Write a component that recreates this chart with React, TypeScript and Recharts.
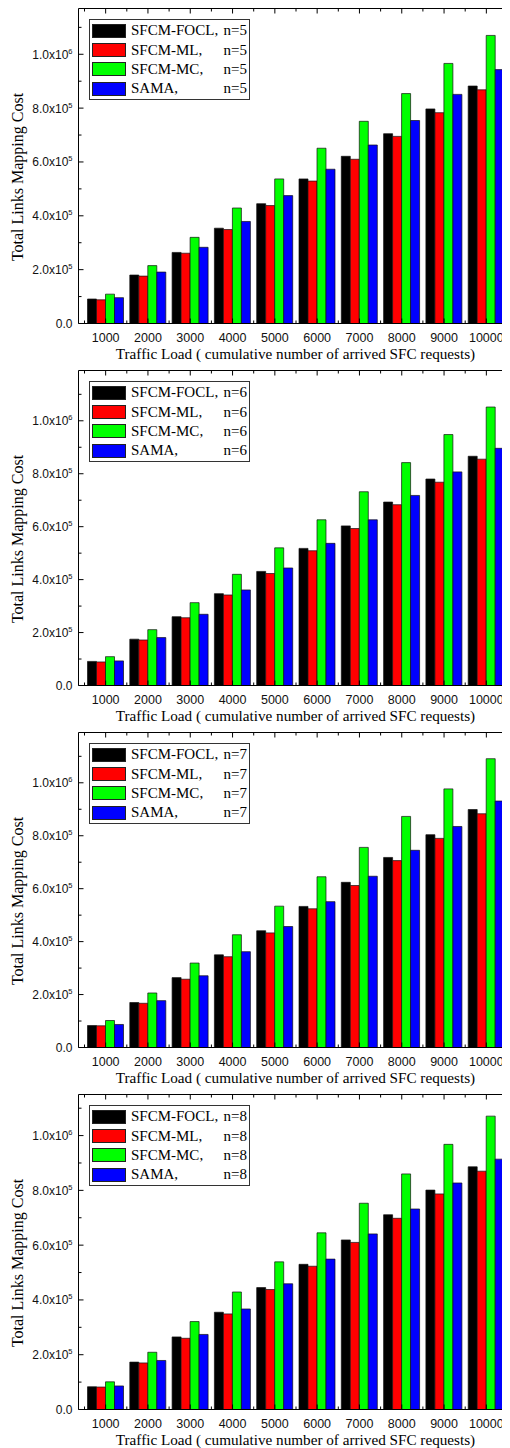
import { Bar, BarChart, Legend, XAxis, YAxis } from "recharts";

// traffic load categories
const loads = ["1000", "2000", "3000", "4000", "5000", "6000", "7000", "8000", "9000", "10000"];

// series names and colours, legend order
const seriesNames = ["SFCM-FOCL", "SFCM-ML", "SFCM-MC", "SAMA"];
const seriesKeys = ["focl", "ml", "mc", "sama"];
const seriesColors = ["#000000", "#ff0000", "#00ff00", "#0000ff"];

// n = 5
const focl5 = [91000, 180000, 264000, 354000, 445000, 537000, 621000, 705000, 797000, 882000];
const ml5 = [88000, 176000, 261000, 349000, 438000, 529000, 610000, 695000, 783000, 868000];
const mc5 = [109000, 215000, 320000, 429000, 537000, 651000, 751000, 854000, 966000, 1070000];
const sama5 = [96000, 191000, 283000, 379000, 475000, 573000, 663000, 754000, 851000, 943000];

// n = 6
const focl6 = [91000, 175000, 260000, 347000, 431000, 518000, 603000, 693000, 780000, 866000];
const ml6 = [89000, 172000, 256000, 342000, 423000, 509000, 593000, 683000, 768000, 855000];
const mc6 = [109000, 211000, 313000, 420000, 520000, 626000, 732000, 842000, 948000, 1052000];
const sama6 = [93000, 181000, 269000, 361000, 444000, 537000, 626000, 718000, 807000, 896000];

// n = 7
const focl7 = [83000, 170000, 264000, 350000, 441000, 533000, 624000, 718000, 804000, 899000];
const ml7 = [82000, 167000, 258000, 343000, 433000, 524000, 612000, 706000, 790000, 883000];
const mc7 = [102000, 206000, 319000, 426000, 534000, 645000, 756000, 873000, 977000, 1091000];
const sama7 = [87000, 177000, 271000, 362000, 457000, 551000, 647000, 745000, 835000, 931000];

// n = 8
const focl8 = [83000, 173000, 265000, 355000, 445000, 530000, 619000, 711000, 801000, 886000];
const ml8 = [82000, 170000, 260000, 349000, 438000, 523000, 610000, 698000, 787000, 870000];
const mc8 = [101000, 209000, 321000, 429000, 539000, 645000, 753000, 860000, 968000, 1071000];
const sama8 = [86000, 179000, 274000, 367000, 459000, 549000, 641000, 732000, 827000, 914000];

const yTicks = [0, 1e5, 2e5, 3e5, 4e5, 5e5, 6e5, 7e5, 8e5, 9e5, 1e6, 1.1e6];

const panels = [
  { n: 5, max: 1.17e6, focl: focl5, ml: ml5, mc: mc5, sama: sama5 },
  { n: 6, max: 1.19e6, focl: focl6, ml: ml6, mc: mc6, sama: sama6 },
  { n: 7, max: 1.19e6, focl: focl7, ml: ml7, mc: mc7, sama: sama7 },
  { n: 8, max: 1.15e6, focl: focl8, ml: ml8, mc: mc8, sama: sama8 },
];

// chart is wider than the window on purpose: the right frame sits at page x 509
const W = 510;
const H = 362;
const Y_W = 70.5;
const R_W = 8.5;
const PAD_L = 6;
const PAD_R = 2;
const BAND = (W - Y_W - R_W - PAD_L - PAD_R) / loads.length;
const SANS = "'Liberation Sans', Arial, sans-serif";
const SERIF = "'Liberation Serif', 'Times New Roman', serif";

const isMajor = (v: number) => Math.round(v / 1e5) % 2 === 0;

function yLabel(v: number) {
  if (v === 0) return <tspan>0.0</tspan>;
  const exp = Math.floor(Math.log10(v) + 1e-9);
  const mant = (v / Math.pow(10, exp)).toFixed(1);
  return (
    <>
      <tspan>{mant}x10</tspan>
      <tspan dy={-5} fontSize={7.5}>{exp}</tspan>
    </>
  );
}

function LeftTick({ x, y, payload }: any) {
  const major = isMajor(payload.value);
  return (
    <g>
      <line x1={x} x2={x + (major ? 5 : 3)} y1={y} y2={y} stroke="#000" />
      {major && (
        <text x={x - 6} y={y + 4.5} textAnchor="end" fontSize={12} style={{ fontFamily: SANS }} fill="#111">
          {yLabel(payload.value)}
        </text>
      )}
    </g>
  );
}

function RightTick({ x, y, payload }: any) {
  const major = isMajor(payload.value);
  return <line x1={x} x2={x - (major ? 5 : 3)} y1={y} y2={y} stroke="#000" />;
}

function BottomTick({ x, y, payload, index }: any) {
  return (
    <g>
      <line x1={x} x2={x} y1={y} y2={y - 5} stroke="#000" />
      <line x1={x - BAND / 2} x2={x - BAND / 2} y1={y} y2={y - 3} stroke="#000" />
      {index === loads.length - 1 && (
        <line x1={x + BAND / 2} x2={x + BAND / 2} y1={y} y2={y - 3} stroke="#000" />
      )}
      <text x={x} y={y + 18} textAnchor="middle" fontSize={12.5} style={{ fontFamily: SANS }} fill="#111">
        {payload.value}
      </text>
    </g>
  );
}

function TopTick({ x, y, index }: any) {
  return (
    <g>
      <line x1={x} x2={x} y1={y} y2={y + 5} stroke="#000" />
      <line x1={x - BAND / 2} x2={x - BAND / 2} y1={y} y2={y + 3} stroke="#000" />
      {index === loads.length - 1 && (
        <line x1={x + BAND / 2} x2={x + BAND / 2} y1={y} y2={y + 3} stroke="#000" />
      )}
    </g>
  );
}

function LegendBox({ n }: { n: number }) {
  return (
    <div
      style={{
        border: "1px solid #333",
        background: "#fff",
        padding: "1px 2px 0 2px",
        width: 161,
        boxSizing: "border-box",
        fontFamily: SERIF,
        fontSize: 15,
        color: "#000",
      }}
    >
      {seriesNames.map((name, i) => (
        <div key={name} style={{ display: "flex", alignItems: "center", height: 19.4 }}>
          <span
            style={{
              width: 34,
              height: 14,
              background: seriesColors[i],
              border: "1px solid #222",
              boxSizing: "border-box",
              flex: "none",
            }}
          />
          <span style={{ marginLeft: 5, flex: 1, display: "flex", justifyContent: "space-between", lineHeight: 1 }}>
            <span>{name},</span>
            <span>n={n}</span>
          </span>
        </div>
      ))}
    </div>
  );
}

function Panel({ p }: { p: (typeof panels)[number] }) {
  const rows = loads.map((x, i) => ({ x, focl: p.focl[i], ml: p.ml[i], mc: p.mc[i], sama: p.sama[i] }));
  return (
    <BarChart
      width={W}
      height={H}
      data={rows}
      barGap={0}
      barSize={9}
      margin={{ top: 0, right: 0, bottom: 0, left: 0 }}
    >
      <XAxis
        dataKey="x"
        height={46.5}
        interval={0}
        padding={{ left: PAD_L, right: PAD_R }}
        axisLine={{ stroke: "#000" }}
        tickLine={false}
        tickSize={0}
        tickMargin={0}
        tick={(props: any) => <BottomTick {...props} />}
        label={(props: any) => {
          const vb = props.viewBox || {};
          return (
            <text x={287.5} y={vb.y + 35} textAnchor="middle" fontSize={15.2} style={{ fontFamily: SERIF }} fill="#000">
              Traffic Load ( cumulative number of arrived SFC requests)
            </text>
          );
        }}
      />
      <XAxis
        xAxisId="top"
        orientation="top"
        dataKey="x"
        height={0.5}
        interval={0}
        padding={{ left: PAD_L, right: PAD_R }}
        axisLine={{ stroke: "#000" }}
        tickLine={false}
        tickSize={0}
        tickMargin={0}
        tick={(props: any) => <TopTick {...props} />}
      />
      <YAxis
        width={Y_W}
        domain={[0, p.max]}
        allowDataOverflow
        ticks={yTicks}
        interval={0}
        axisLine={{ stroke: "#000" }}
        tickLine={false}
        tickSize={0}
        tickMargin={0}
        tick={(props: any) => <LeftTick {...props} />}
        label={(props: any) => {
          const vb = props.viewBox || {};
          const cy = vb.y + 168.5;
          return (
            <text
              x={15}
              y={cy}
              transform={`rotate(-90, 15, ${cy})`}
              textAnchor="middle"
              fontSize={16}
              style={{ fontFamily: SERIF }}
              fill="#000"
            >
              Total Links Mapping Cost
            </text>
          );
        }}
      />
      <YAxis
        yAxisId="right"
        orientation="right"
        width={R_W}
        domain={[0, p.max]}
        allowDataOverflow
        ticks={yTicks}
        interval={0}
        axisLine={{ stroke: "#000" }}
        tickLine={false}
        tickSize={0}
        tickMargin={0}
        tick={(props: any) => <RightTick {...props} />}
      />
      <Legend
        layout="vertical"
        verticalAlign="middle"
        align="center"
        wrapperStyle={{ top: 11, left: 81, width: 161, height: "auto" }}
        content={() => <LegendBox n={p.n} />}
      />
      {seriesKeys.map((k, i) => (
        <Bar
          key={k}
          dataKey={k}
          name={seriesNames[i]}
          fill={seriesColors[i]}
          stroke="#111"
          strokeWidth={0.7}
          isAnimationActive={false}
        />
      ))}
    </BarChart>
  );
}

export default function App() {
  return (
    <div style={{ width: W }}>
      <style>{"html { overflow: hidden; }"}</style>
      {panels.map((p) => (
        <Panel key={p.n} p={p} />
      ))}
    </div>
  );
}
